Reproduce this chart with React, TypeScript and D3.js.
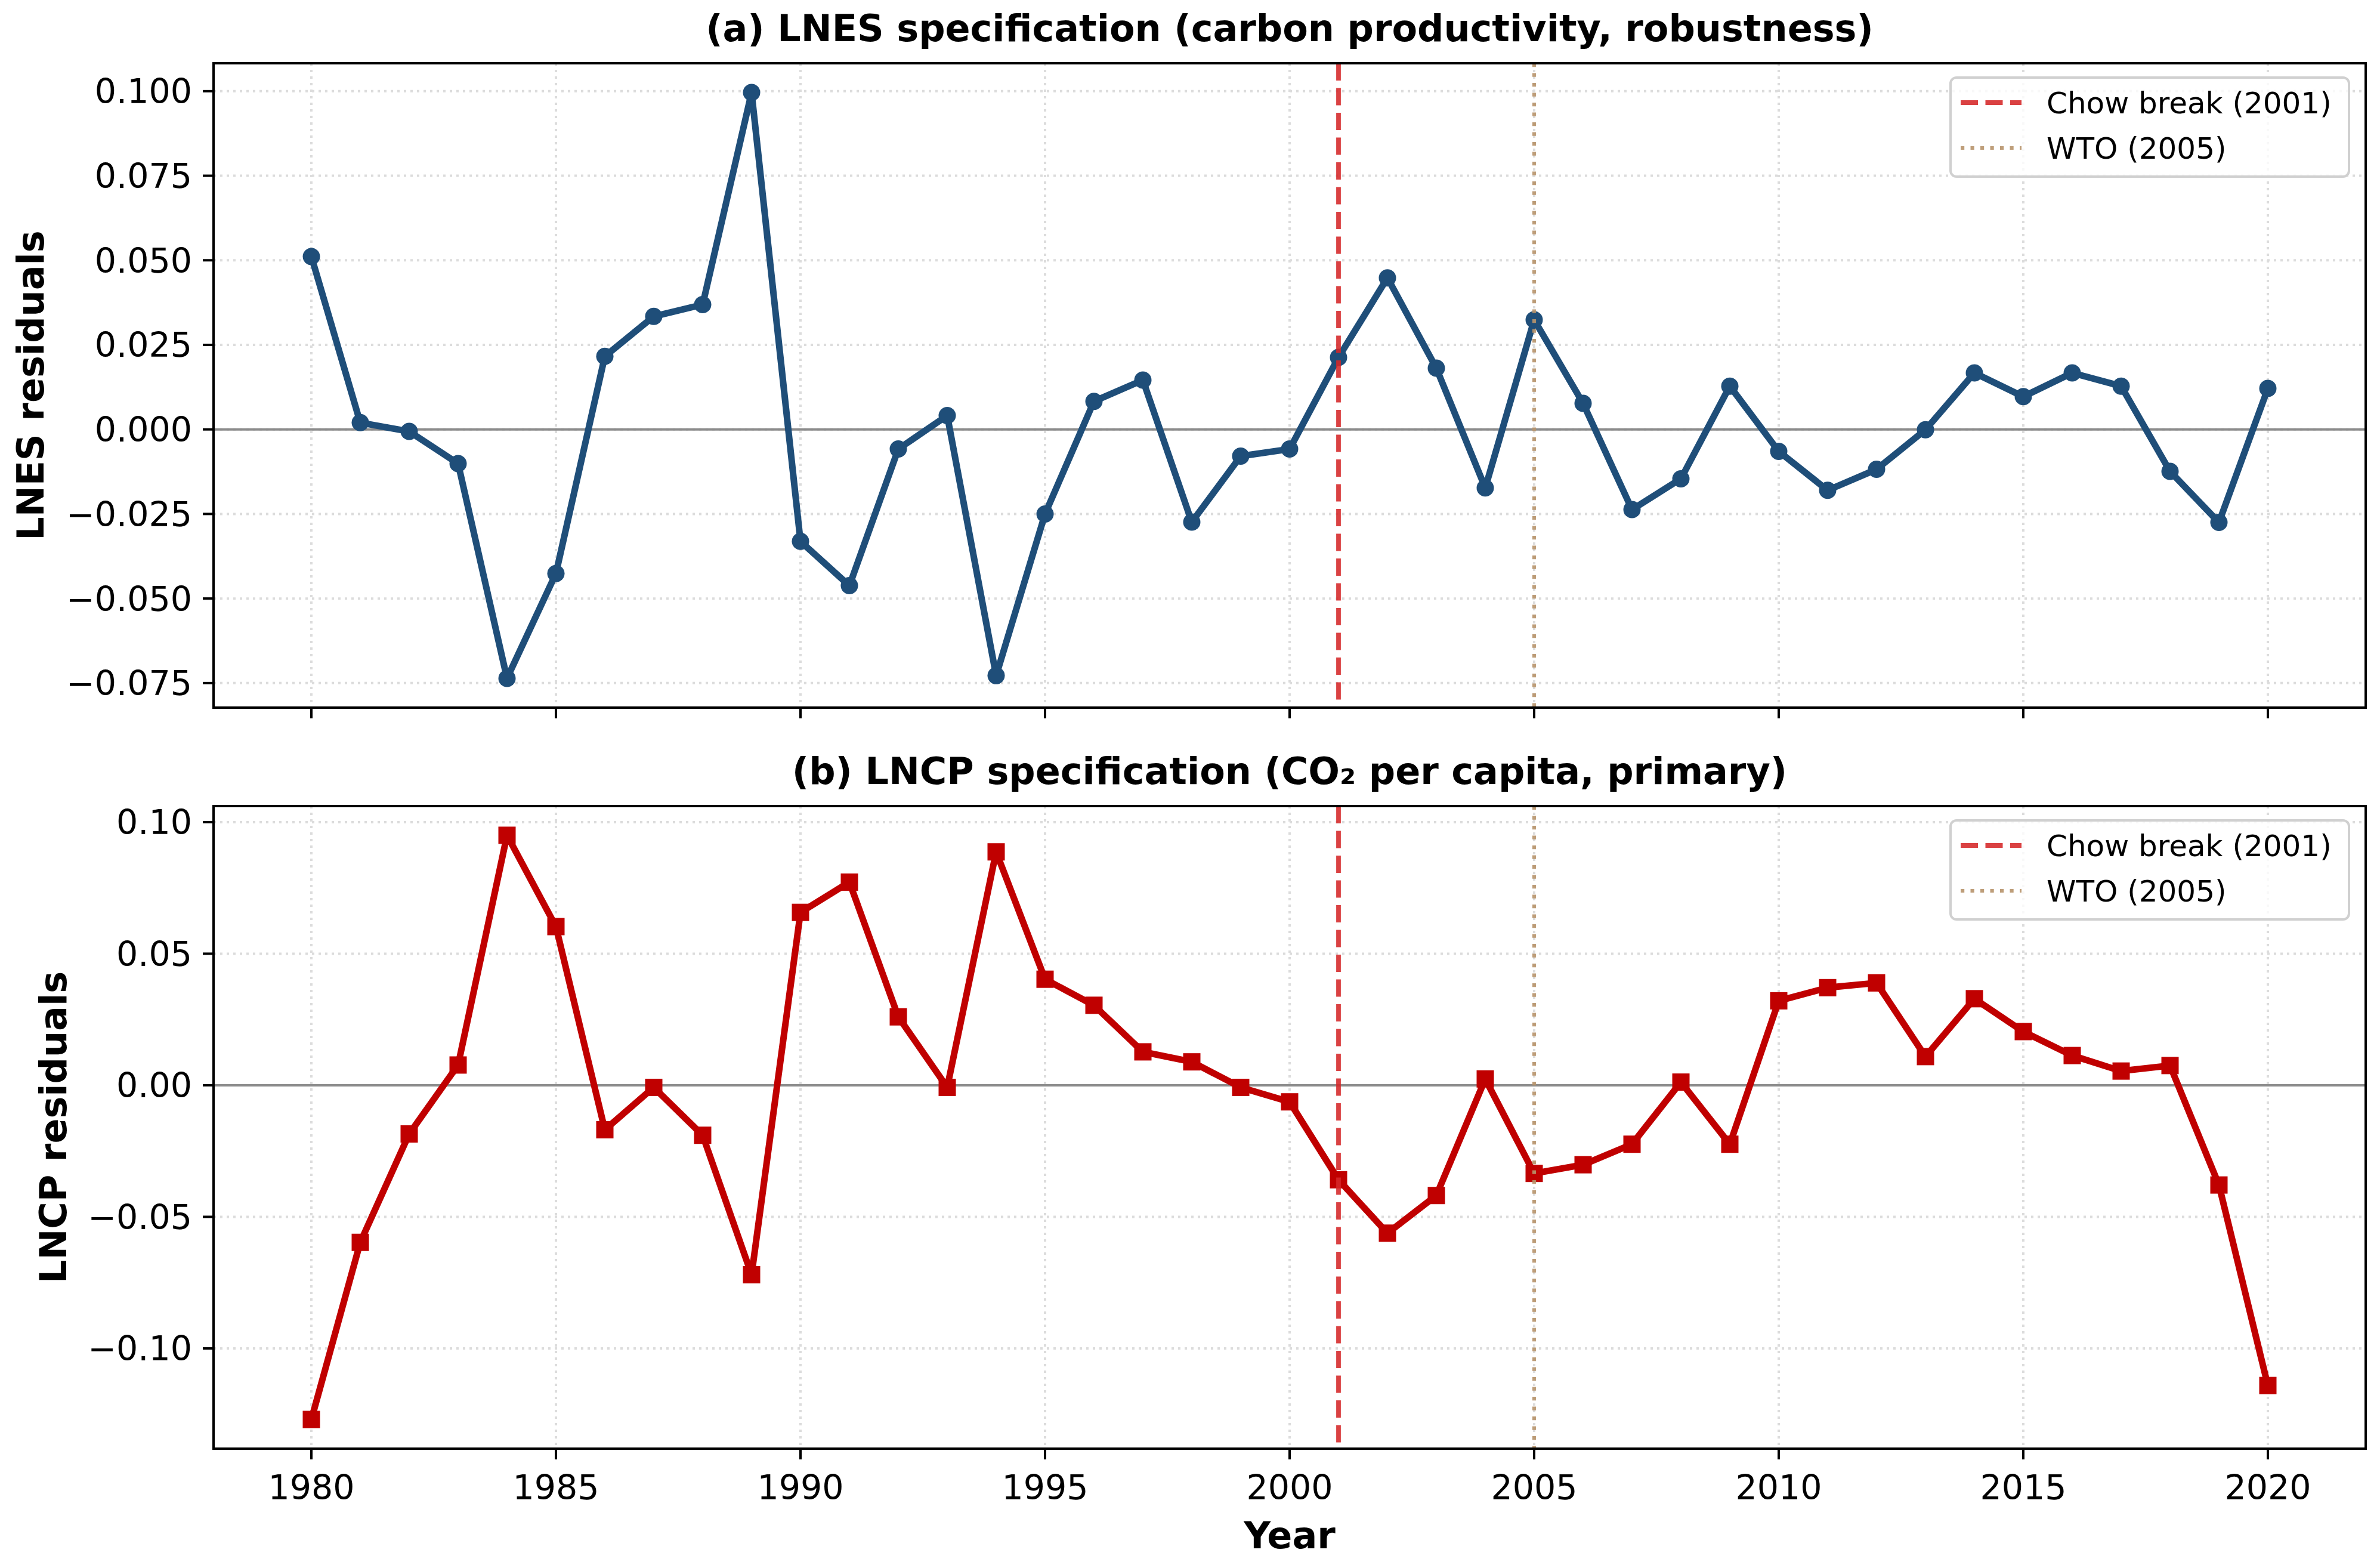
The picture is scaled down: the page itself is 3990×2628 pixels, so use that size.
import React from "react";
import * as d3 from "d3";

// years on the shared x axis
const years = [
    1980, 1981, 1982, 1983, 1984, 1985, 1986, 1987, 1988, 1989,
    1990, 1991, 1992, 1993, 1994, 1995, 1996, 1997, 1998, 1999,
    2000, 2001, 2002, 2003, 2004, 2005, 2006, 2007, 2008, 2009,
    2010, 2011, 2012, 2013, 2014, 2015, 2016, 2017, 2018, 2019, 2020,
];

// (a) LNES residuals
const lnesResiduals = [
    0.0511, 0.002, -0.0006, -0.0101, -0.0736, -0.0426, 0.0216, 0.0334, 0.0369, 0.0996,
    -0.0331, -0.0462, -0.0058, 0.0041, -0.0728, -0.025, 0.0083, 0.0146, -0.0274, -0.0079,
    -0.0058, 0.0213, 0.0448, 0.0181, -0.0173, 0.0324, 0.0077, -0.0237, -0.0146, 0.0128,
    -0.0065, -0.018, -0.0118, -0.0001, 0.0167, 0.0097, 0.0167, 0.0128, -0.0124, -0.0275, 0.0121,
];

// (b) LNCP residuals
const lncpResiduals = [
    -0.127, -0.0597, -0.0185, 0.0077, 0.095, 0.0603, -0.0169, -0.0008, -0.019, -0.072,
    0.0657, 0.0772, 0.026, -0.0008, 0.0887, 0.0403, 0.0304, 0.0127, 0.0089, -0.0008,
    -0.0063, -0.0359, -0.0562, -0.0419, 0.0024, -0.0335, -0.0302, -0.0224, 0.0012, -0.0224,
    0.0321, 0.0371, 0.0389, 0.0109, 0.0329, 0.0204, 0.0113, 0.0054, 0.0075, -0.0379, -0.1141,
];

const xTicks = [1980, 1985, 1990, 1995, 2000, 2005, 2010, 2015, 2020];
const lnesTicks = [-0.075, -0.05, -0.025, 0, 0.025, 0.05, 0.075, 0.1];
const lncpTicks = [-0.1, -0.05, 0, 0.05, 0.1];

const events = [
    { year: 2001, label: "Chow break (2001)", color: "#d62728", dash: "29 12.5", width: 7.8, opacity: 0.88 },
    { year: 2005, label: "WTO (2005)", color: "#b8946c", dash: "6.2 10.3", width: 6.2, opacity: 0.9 },
];

const WIDTH = 3990;
const HEIGHT = 2628;
const plotLeft = 358;
const plotRight = 3966;
const font = "'DejaVu Sans', 'Noto Sans', sans-serif";

const blueColor = "#1f4e79";
const redColor = "#c00000";

// matplotlib style 5% padding
const padExtent = (vals: number[]) => {
    const [lo, hi] = d3.extent(vals) as [number, number];
    const m = (hi - lo) * 0.05;
    return [lo - m, hi + m];
};

const x = d3.scaleLinear(padExtent(years), [plotLeft, plotRight]);

const Panel = (props: any) => {
    const {
        values,
        yTicks,
        fmt,
        top,
        bottom,
        color,
        marker,
        title,
        yLabel,
        yLabelX,
        showXLabels,
    } = props;

    const y = d3.scaleLinear(padExtent(values), [bottom, top]);
    const line = d3
        .line<number>()
        .x((_, i) => x(years[i]))
        .y((d) => y(d));
    const format = d3.format(fmt);

    return (
        <g>
            {/* grid */}
            <g stroke="#dcdcdc" strokeWidth={4} strokeDasharray="4 7">
                {xTicks.map((t) => (
                    <line key={"gx" + t} x1={x(t)} x2={x(t)} y1={top} y2={bottom} />
                ))}
                {yTicks.map((t: number) => (
                    <line key={"gy" + t} x1={plotLeft} x2={plotRight} y1={y(t)} y2={y(t)} />
                ))}
            </g>
            {/* zero line */}
            <line x1={plotLeft} x2={plotRight} y1={y(0)} y2={y(0)} stroke="#8c8c8c" strokeWidth={4} />

            {/* series */}
            <path d={line(values) || ""} fill="none" stroke={color} strokeWidth={11} strokeLinejoin="round" />
            {values.map((v: number, i: number) =>
                marker === "circle" ? (
                    <circle key={i} cx={x(years[i])} cy={y(v)} r={14.5} fill={color} />
                ) : (
                    <rect key={i} x={x(years[i]) - 14.5} y={y(v) - 14.5} width={29} height={29} fill={color} />
                )
            )}

            {/* event lines */}
            {events.map((e) => (
                <line
                    key={e.year}
                    x1={x(e.year)}
                    x2={x(e.year)}
                    y1={top}
                    y2={bottom}
                    stroke={e.color}
                    strokeWidth={e.width}
                    strokeDasharray={e.dash}
                    opacity={e.opacity}
                />
            ))}

            {/* spines */}
            <rect
                x={plotLeft}
                y={top}
                width={plotRight - plotLeft}
                height={bottom - top}
                fill="none"
                stroke="#000"
                strokeWidth={4}
            />

            {/* y axis */}
            {yTicks.map((t: number) => (
                <g key={"ty" + t}>
                    <line x1={plotLeft - 18} x2={plotLeft} y1={y(t)} y2={y(t)} stroke="#000" strokeWidth={4} />
                    <text
                        x={plotLeft - 36}
                        y={y(t)}
                        dy="0.36em"
                        textAnchor="end"
                        fontSize={57}
                        fontFamily={font}
                        fill="#000"
                    >
                        {format(t)}
                    </text>
                </g>
            ))}

            {/* x axis */}
            {xTicks.map((t) => (
                <g key={"tx" + t}>
                    <line x1={x(t)} x2={x(t)} y1={bottom} y2={bottom + 18} stroke="#000" strokeWidth={4} />
                    {showXLabels && (
                        <text
                            x={x(t)}
                            y={bottom + 85}
                            textAnchor="middle"
                            fontSize={57}
                            fontFamily={font}
                            fill="#000"
                        >
                            {t}
                        </text>
                    )}
                </g>
            ))}

            <text
                x={(plotLeft + plotRight) / 2}
                y={top - 37}
                textAnchor="middle"
                fontSize={62}
                fontWeight="bold"
                fontFamily={font}
                fill="#000"
            >
                {title}
            </text>
            <text
                transform={`translate(${yLabelX},${(top + bottom) / 2}) rotate(-90)`}
                dy="0.36em"
                textAnchor="middle"
                fontSize={62}
                fontWeight="bold"
                fontFamily={font}
                fill="#000"
            >
                {yLabel}
            </text>

            {/* legend */}
            <g>
                <rect
                    x={3270}
                    y={top + 24}
                    width={668}
                    height={166}
                    rx={10}
                    fill="#fff"
                    fillOpacity={0.8}
                    stroke="#d0d0d0"
                    strokeWidth={4}
                />
                {events.map((e, i) => {
                    const ly = top + 66 + i * 76;
                    return (
                        <g key={"lg" + e.year}>
                            <line
                                x1={3287}
                                x2={3389}
                                y1={ly}
                                y2={ly}
                                stroke={e.color}
                                strokeWidth={e.width}
                                strokeDasharray={e.dash}
                                opacity={e.opacity}
                            />
                            <text x={3431} y={ly} dy="0.36em" fontSize={50} fontFamily={font} fill="#000">
                                {e.label}
                            </text>
                        </g>
                    );
                })}
            </g>
        </g>
    );
};

export default function App() {
    return (
        <svg
            width={WIDTH}
            height={HEIGHT}
            viewBox={`0 0 ${WIDTH} ${HEIGHT}`}
            style={{ position: "absolute", top: 0, left: 0, background: "#fff" }}
        >
            <rect width={WIDTH} height={HEIGHT} fill="#fff" />
            <Panel
                values={lnesResiduals}
                yTicks={lnesTicks}
                fmt=".3f"
                top={106}
                bottom={1186}
                color={blueColor}
                marker="circle"
                title="(a) LNES specification (carbon productivity, robustness)"
                yLabel="LNES residuals"
                yLabelX={51}
                showXLabels={false}
            />
            <Panel
                values={lncpResiduals}
                yTicks={lncpTicks}
                fmt=".2f"
                top={1351}
                bottom={2428}
                color={redColor}
                marker="square"
                title="(b) LNCP specification (CO₂ per capita, primary)"
                yLabel="LNCP residuals"
                yLabelX={89}
                showXLabels={true}
            />
            <text
                x={(plotLeft + plotRight) / 2}
                y={2595}
                textAnchor="middle"
                fontSize={62}
                fontWeight="bold"
                fontFamily={font}
                fill="#000"
            >
                Year
            </text>
        </svg>
    );
}
